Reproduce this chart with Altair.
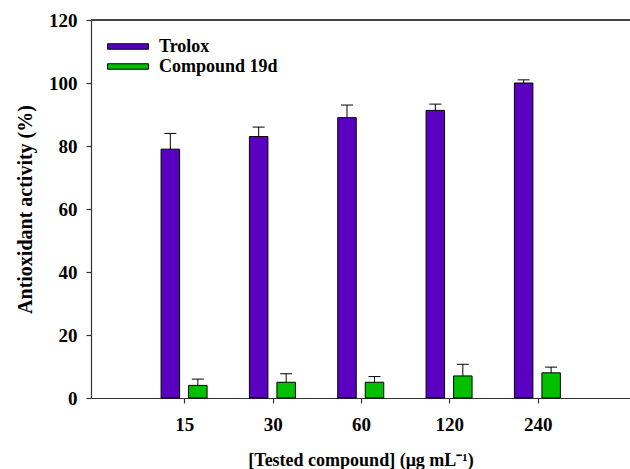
import json
import altair as alt
import pandas as pd

# Concentrations tested (µg/mL) and the measured antioxidant activity (%)
concentrations = ["15", "30", "60", "120", "240"]
series_names = ["Trolox", "Compound 19d"]
trolox_values = [79, 83, 89, 91.3, 100]
trolox_errors = [5, 3, 4, 2, 1]
compound_values = [4, 5, 5, 7, 8]
compound_errors = [2, 2.7, 1.8, 3.7, 1.8]
series_colors = ["#5a00c0", "#00c000"]

rows = []
for name, vals, errs in [
    (series_names[0], trolox_values, trolox_errors),
    (series_names[1], compound_values, compound_errors),
]:
    for i, (v, e) in enumerate(zip(vals, errs)):
        rows.append({"series": name, "pos": i + 1, "conc": concentrations[i],
                     "value": v, "hi": v + e})
df = pd.DataFrame(rows)

W, H = 539, 378
FONT = "Liberation Serif"

x_scale = alt.Scale(domain=[0, W / 90], nice=False, zero=True)
y_scale = alt.Scale(domain=[0, 120], nice=False)
color_scale = alt.Scale(domain=series_names, range=series_colors)

x_axis = alt.Axis(
    values=list(range(1, len(concentrations) + 1)),
    labelExpr=json.dumps(concentrations) + "[datum.value - 1]",
    title="[Tested compound] (μg mL⁻¹)",
    grid=False, tickSize=5, labelPadding=12,
    titleY=67, titleBaseline="alphabetic", titleFontSize=18,
)
y_axis = alt.Axis(
    values=[0, 20, 40, 60, 80, 100, 120],
    title="Antioxidant activity (%)",
    grid=False, tickSize=5, labelPadding=9,
    titleX=-60, titleBaseline="alphabetic", titleFontSize=20,
)

legend = alt.Legend(
    title=None, orient="none", legendX=26, legendY=15.5,
    symbolType="M-1.95,-0.26H1.95V0.26H-1.95Z", symbolSize=441,
    symbolStrokeColor="black", symbolStrokeWidth=1, symbolOpacity=1,
    labelOffset=20, rowPadding=0, padding=0,
    labelFont=FONT, labelFontSize=18, labelFontWeight="bold", labelColor="black",
)

offsets = {series_names[0]: -14, series_names[1]: 13.5}


def series_layers(name, with_legend):
    sub = alt.Chart(df).transform_filter(alt.datum.series == name)
    bars = sub.mark_bar(width=18.5, xOffset=offsets[name], stroke="black",
                        strokeWidth=1, opacity=1).encode(
        x=alt.X("pos:Q", scale=x_scale, axis=x_axis),
        y=alt.Y("value:Q", scale=y_scale, axis=y_axis),
        color=alt.Color("series:N", scale=color_scale,
                        legend=legend if with_legend else None),
    )
    stem = sub.mark_rule(xOffset=offsets[name], color="black", strokeWidth=1).encode(
        x=alt.X("pos:Q", scale=x_scale),
        y=alt.Y("value:Q", scale=y_scale),
        y2="hi:Q",
    )
    cap = sub.mark_tick(xOffset=offsets[name], orient="horizontal", size=12,
                        thickness=1, color="black", opacity=1).encode(
        x=alt.X("pos:Q", scale=x_scale),
        y=alt.Y("hi:Q", scale=y_scale),
    )
    return [bars, stem, cap]


# frame line along the top of the plot area
top_line = alt.Chart(df).mark_rule(color="#444", strokeWidth=1.5).encode(
    x=alt.value(0), x2=alt.value(W), y=alt.value(0)
)

layers = series_layers(series_names[0], True) + series_layers(series_names[1], False)

chart = alt.layer(top_line, *layers).properties(
    width=W, height=H,
    autosize=alt.AutoSizeParams(type="none"),
    padding={"left": 91, "top": 20, "right": 0, "bottom": 71},
    background="white",
).configure_view(stroke=None).configure_axis(
    domainColor="#333", domainWidth=1.2, tickColor="#333", tickWidth=1.2,
    labelFont=FONT, labelFontSize=19, labelFontWeight="bold", labelColor="black",
    titleFont=FONT, titleFontWeight="bold", titleColor="black",
)

chart.save("out.html", embed_options={"renderer": "svg", "actions": False})
